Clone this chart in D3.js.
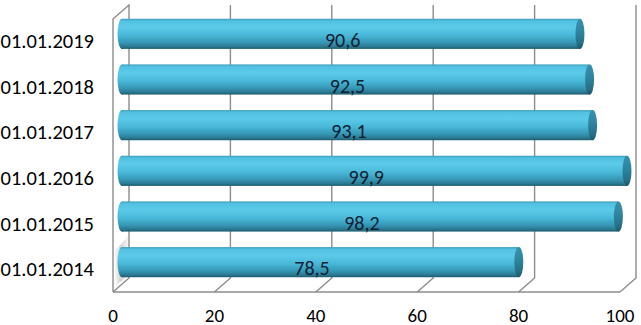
<!DOCTYPE html>
<html><head><meta charset="utf-8">
<script src="https://cdn.jsdelivr.net/npm/d3@7"></script>
<style>html,body{margin:0;padding:0;background:#fff;overflow:hidden}</style>
</head><body>
<svg id="c" width="641" height="325"></svg>
<script>
const categories = ["01.01.2014","01.01.2015","01.01.2016","01.01.2017","01.01.2018","01.01.2019"];
const values = [78.5, 98.2, 99.9, 93.1, 92.5, 90.6];
const valueLabels = ["78,5","98,2","99,9","93,1","92,5","90,6"];
const ticks = [0, 20, 40, 60, 80, 100];

const svg = d3.select("#c");
const FONT = "Carlito, Calibri, Lato, sans-serif";
const depthX = 16, depthY = 14;
const floorY = 292, topY = 5;

const xf = d3.scaleLinear().domain([0,100]).range([113, 620]);   // front plane
const xk = d3.scaleLinear().domain([0,100]).range([129, 636]);   // back wall
const xb = d3.scaleLinear().domain([0,100]).range([122, 627.5]); // bar axis
const y = d3.scaleBand().domain(categories.slice().reverse()).range([11, 285])
  .paddingInner(0.34).paddingOuter(0.17);

const defs = svg.append("defs");
const g1 = defs.append("linearGradient").attr("id","cyl").attr("x1",0).attr("y1",0).attr("x2",0).attr("y2",1);
[[0,"#3a9cbb"],[0.07,"#52c0e0"],[0.28,"#5ccbea"],[0.55,"#49b8d8"],[0.78,"#3798b7"],[0.92,"#2a7a92"],[1,"#1d5b6e"]]
  .forEach(s=>g1.append("stop").attr("offset",s[0]).attr("stop-color",s[1]));
const g2 = defs.append("linearGradient").attr("id","cap").attr("x1",0).attr("y1",0).attr("x2",0).attr("y2",1);
[[0,"#3690ad"],[0.4,"#2f86a2"],[0.8,"#276f87"],[1,"#1d5668"]]
  .forEach(s=>g2.append("stop").attr("offset",s[0]).attr("stop-color",s[1]));
const g3 = defs.append("linearGradient").attr("id","shade").attr("x1",0).attr("y1",0).attr("x2",1).attr("y2",0);
[[0,"#ffffff"],[0.45,"#d4d4d4"],[1,"#f4f4f4"]]
  .forEach(s=>g3.append("stop").attr("offset",s[0]).attr("stop-color",s[1]));

const lineCol = "#8c8c8c";

// left wall shading near the bottom bar
svg.append("path").attr("fill","url(#shade)")
  .attr("d", `M${xf(0)+1},${floorY-6} L${xf(0)+1},${floorY-40} L${xk(0)-1},${floorY-56} L${xk(0)-1},${floorY-depthY-1} Z`);

const grid = svg.append("g").attr("stroke", lineCol).attr("stroke-width", 1.4).attr("fill","none");
// left wall
grid.append("path").attr("d",
  `M${xf(0)},${floorY} L${xf(0)},${topY+depthY} L${xk(0)},${topY} L${xk(0)},${floorY-depthY} L${xf(0)},${floorY}`);
// floor front edge
grid.append("line").attr("x1",xf(0)).attr("x2",xf(100)).attr("y1",floorY).attr("y2",floorY);
// gridlines on back wall + floor diagonals
ticks.filter(t=>t>0).forEach(t=>{
  grid.append("path").attr("d",
    `M${xk(t)},${topY} L${xk(t)},${floorY-depthY} L${xf(t)},${floorY}`);
});

// bars
const bars = svg.append("g").selectAll("g").data(categories).join("g");
const r = 4.5;
bars.each(function(c,i){
  const gg = d3.select(this);
  const yy = y(c), h = y.bandwidth(), v = values[i];
  gg.append("ellipse").attr("cx", xb(0)).attr("cy", yy+h/2).attr("rx", r).attr("ry", h/2).attr("fill","url(#cyl)");
  gg.append("rect").attr("x", xb(0)).attr("y", yy).attr("width", xb(v)-xb(0)).attr("height", h).attr("fill","url(#cyl)");
  gg.append("ellipse").attr("cx", xb(v)).attr("cy", yy+h/2).attr("rx", r).attr("ry", h/2).attr("fill","url(#cap)");
});

// value labels
svg.append("g").selectAll("text").data(categories).join("text")
  .attr("x",(c,i)=>xf(values[i]/2))
  .attr("y",c=>y(c)+y.bandwidth()/2+13)
  .attr("text-anchor","middle")
  .attr("font-family",FONT).attr("font-size",20).attr("fill","#0f2133")
  .text((c,i)=>valueLabels[i]);

// category labels
svg.append("g").selectAll("text").data(categories).join("text")
  .attr("x",94)
  .attr("y",c=>y(c)+y.bandwidth()/2+14)
  .attr("text-anchor","end")
  .attr("font-family",FONT).attr("font-size",20.5).attr("fill","#000")
  .text(c=>c);

// x tick labels
svg.append("g").selectAll("text").data(ticks).join("text")
  .attr("x",t=>xf(t))
  .attr("y",322)
  .attr("text-anchor","middle")
  .attr("font-family",FONT).attr("font-size",19).attr("fill","#000")
  .text(t=>t);
</script>
</body></html>
